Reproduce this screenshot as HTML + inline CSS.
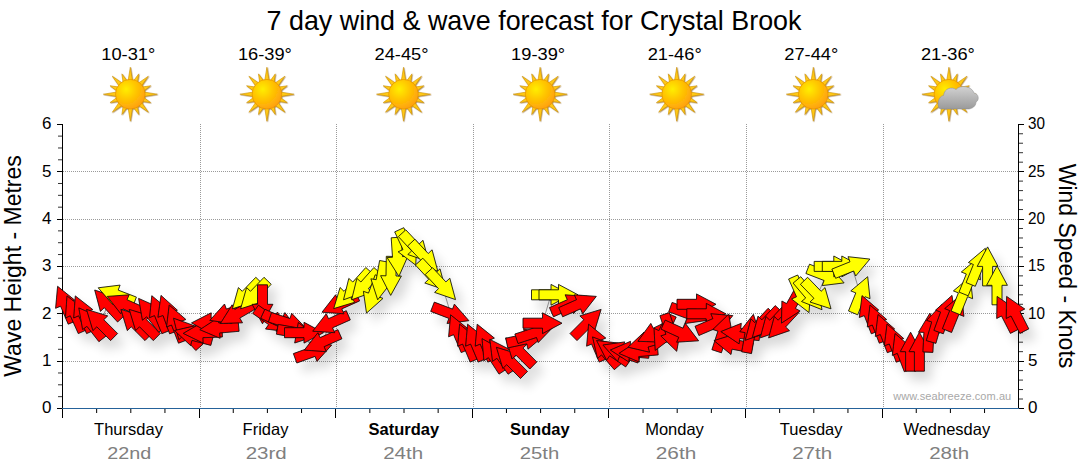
<!DOCTYPE html>
<html><head><meta charset="utf-8"><title>7 day wind &amp; wave forecast</title>
<style>
html,body{margin:0;padding:0;background:#fff;}
body{width:1080px;height:475px;overflow:hidden;position:relative;font-family:"Liberation Sans",sans-serif;}
svg{position:absolute;left:0;top:0;}
text{font-family:"Liberation Sans",sans-serif;}
</style></head><body>
<svg width="1080" height="475" viewBox="0 0 1080 475">
<defs>
<radialGradient id="sg" cx="0.36" cy="0.33" r="0.75">
<stop offset="0" stop-color="#ffee00"/><stop offset="0.45" stop-color="#ffc600"/><stop offset="1" stop-color="#ff9c10"/>
</radialGradient>
<linearGradient id="rg" x1="0" y1="0" x2="1" y2="1">
<stop offset="0" stop-color="#ffd800"/><stop offset="1" stop-color="#f7a000"/>
</linearGradient>
<linearGradient id="cg" x1="0" y1="0" x2="0" y2="1">
<stop offset="0" stop-color="#d2d2d2"/><stop offset="1" stop-color="#9a9a9a"/>
</linearGradient>
<filter id="sh" x="-5%" y="-20%" width="110%" height="150%">
<feGaussianBlur in="SourceAlpha" stdDeviation="5.5"/>
<feOffset dx="7" dy="9" result="b"/>
<feComponentTransfer><feFuncA type="linear" slope="0.15"/></feComponentTransfer>
<feMerge><feMergeNode/><feMergeNode in="SourceGraphic"/></feMerge>
</filter>
<filter id="ss" x="-20%" y="-20%" width="150%" height="150%">
<feDropShadow dx="0.6" dy="0.6" stdDeviation="0.5" flood-color="#7a4a00" flood-opacity="0.7"/>
</filter>
<g id="sun">

<g filter="url(#ss)"><path d="M-2.23 -13.31L0.00 -27.00L2.23 -13.31Z" fill="#ffc814" stroke="#c98a00" stroke-width="0.5"/>
<path d="M3.04 -13.15L8.42 -20.33L7.15 -11.45Z" fill="#ffc814" stroke="#c98a00" stroke-width="0.5"/>
<path d="M7.84 -10.99L18.03 -18.03L10.99 -7.84Z" fill="#ffc814" stroke="#c98a00" stroke-width="0.5"/>
<path d="M11.45 -7.15L20.33 -8.42L13.15 -3.04Z" fill="#ffc814" stroke="#c98a00" stroke-width="0.5"/>
<path d="M13.31 -2.23L27.00 0.00L13.31 2.23Z" fill="#ffc814" stroke="#c98a00" stroke-width="0.5"/>
<path d="M13.15 3.04L20.33 8.42L11.45 7.15Z" fill="#ffc814" stroke="#c98a00" stroke-width="0.5"/>
<path d="M10.99 7.84L18.03 18.03L7.84 10.99Z" fill="#ffc814" stroke="#c98a00" stroke-width="0.5"/>
<path d="M7.15 11.45L8.42 20.33L3.04 13.15Z" fill="#ffc814" stroke="#c98a00" stroke-width="0.5"/>
<path d="M2.23 13.31L0.00 27.00L-2.23 13.31Z" fill="#ffc814" stroke="#c98a00" stroke-width="0.5"/>
<path d="M-3.04 13.15L-8.42 20.33L-7.15 11.45Z" fill="#ffc814" stroke="#c98a00" stroke-width="0.5"/>
<path d="M-7.84 10.99L-18.03 18.03L-10.99 7.84Z" fill="#ffc814" stroke="#c98a00" stroke-width="0.5"/>
<path d="M-11.45 7.15L-20.33 8.42L-13.15 3.04Z" fill="#ffc814" stroke="#c98a00" stroke-width="0.5"/>
<path d="M-13.31 2.23L-27.00 0.00L-13.31 -2.23Z" fill="#ffc814" stroke="#c98a00" stroke-width="0.5"/>
<path d="M-13.15 -3.04L-20.33 -8.42L-11.45 -7.15Z" fill="#ffc814" stroke="#c98a00" stroke-width="0.5"/>
<path d="M-10.99 -7.84L-18.03 -18.03L-7.84 -10.99Z" fill="#ffc814" stroke="#c98a00" stroke-width="0.5"/>
<path d="M-7.15 -11.45L-8.42 -20.33L-3.04 -13.15Z" fill="#ffc814" stroke="#c98a00" stroke-width="0.5"/>
<circle r="14.8" fill="url(#sg)" stroke="#e08c00" stroke-width="0.6"/></g>
</g></defs>
<text x="534" y="29.6" font-size="28" text-anchor="middle" textLength="535" lengthAdjust="spacingAndGlyphs" fill="#000">7 day wind &amp; wave forecast for Crystal Brook</text>
<text x="128.3" y="59.5" font-size="17" text-anchor="middle" textLength="54" lengthAdjust="spacingAndGlyphs" fill="#000">10-31°</text>
<use href="#sun" x="130.3" y="94.2"/>
<text x="264.9" y="59.5" font-size="17" text-anchor="middle" textLength="54" lengthAdjust="spacingAndGlyphs" fill="#000">16-39°</text>
<use href="#sun" x="266.9" y="94.2"/>
<text x="401.5" y="59.5" font-size="17" text-anchor="middle" textLength="54" lengthAdjust="spacingAndGlyphs" fill="#000">24-45°</text>
<use href="#sun" x="403.5" y="94.2"/>
<text x="538.1" y="59.5" font-size="17" text-anchor="middle" textLength="54" lengthAdjust="spacingAndGlyphs" fill="#000">19-39°</text>
<use href="#sun" x="540.1" y="94.2"/>
<text x="674.7" y="59.5" font-size="17" text-anchor="middle" textLength="54" lengthAdjust="spacingAndGlyphs" fill="#000">21-46°</text>
<use href="#sun" x="676.7" y="94.2"/>
<text x="811.3" y="59.5" font-size="17" text-anchor="middle" textLength="54" lengthAdjust="spacingAndGlyphs" fill="#000">27-44°</text>
<use href="#sun" x="813.3" y="94.2"/>
<text x="947.9" y="59.5" font-size="17" text-anchor="middle" textLength="54" lengthAdjust="spacingAndGlyphs" fill="#000">21-36°</text>
<use href="#sun" x="948.9" y="94.2"/>
<g transform="translate(910,60)">
<path d="M31 49 C26.5 49 27 36.5 33.5 35.5 C34.5 28 42 26.5 46 29.5 C50 24.5 62 26 64 33 C69 33.5 69.5 40.5 66 42 C66 46.5 62 48.5 59 49 Z" fill="url(#cg)" stroke="#8a8a8a" stroke-width="0.5"/>
</g>
<g stroke="#9a9a9a" stroke-width="1" stroke-dasharray="1 1" shape-rendering="crispEdges"><line x1="63" x2="1018" y1="361.5" y2="361.5"/><line x1="63" x2="1018" y1="313.5" y2="313.5"/><line x1="63" x2="1018" y1="266.5" y2="266.5"/><line x1="63" x2="1018" y1="219.5" y2="219.5"/><line x1="63" x2="1018" y1="171.5" y2="171.5"/><line x1="200.5" x2="200.5" y1="124" y2="408"/><line x1="336.5" x2="336.5" y1="124" y2="408"/><line x1="473.5" x2="473.5" y1="124" y2="408"/><line x1="609.5" x2="609.5" y1="124" y2="408"/><line x1="746.5" x2="746.5" y1="124" y2="408"/><line x1="883.5" x2="883.5" y1="124" y2="408"/></g>
<g stroke="#000" stroke-width="1" shape-rendering="crispEdges"><line x1="62.5" x2="62.5" y1="124" y2="409"/><line x1="1018.5" x2="1018.5" y1="124" y2="409"/><line x1="57" x2="62" y1="408.5" y2="408.5"/><line x1="1019" x2="1024" y1="408.5" y2="408.5"/><line x1="57" x2="62" y1="361.5" y2="361.5"/><line x1="1019" x2="1024" y1="361.5" y2="361.5"/><line x1="57" x2="62" y1="313.5" y2="313.5"/><line x1="1019" x2="1024" y1="313.5" y2="313.5"/><line x1="57" x2="62" y1="266.5" y2="266.5"/><line x1="1019" x2="1024" y1="266.5" y2="266.5"/><line x1="57" x2="62" y1="219.5" y2="219.5"/><line x1="1019" x2="1024" y1="219.5" y2="219.5"/><line x1="57" x2="62" y1="171.5" y2="171.5"/><line x1="1019" x2="1024" y1="171.5" y2="171.5"/><line x1="57" x2="62" y1="124.5" y2="124.5"/><line x1="1019" x2="1024" y1="124.5" y2="124.5"/></g>
<g stroke="#333" stroke-width="1"><line x1="58" x2="62" y1="396.66" y2="396.66"/><line x1="58" x2="62" y1="384.81" y2="384.81"/><line x1="58" x2="62" y1="372.97" y2="372.97"/><line x1="58" x2="62" y1="349.29" y2="349.29"/><line x1="58" x2="62" y1="337.44" y2="337.44"/><line x1="58" x2="62" y1="325.60" y2="325.60"/><line x1="58" x2="62" y1="301.92" y2="301.92"/><line x1="58" x2="62" y1="290.07" y2="290.07"/><line x1="58" x2="62" y1="278.23" y2="278.23"/><line x1="58" x2="62" y1="254.55" y2="254.55"/><line x1="58" x2="62" y1="242.71" y2="242.71"/><line x1="58" x2="62" y1="230.86" y2="230.86"/><line x1="58" x2="62" y1="207.18" y2="207.18"/><line x1="58" x2="62" y1="195.34" y2="195.34"/><line x1="58" x2="62" y1="183.49" y2="183.49"/><line x1="58" x2="62" y1="159.81" y2="159.81"/><line x1="58" x2="62" y1="147.97" y2="147.97"/><line x1="58" x2="62" y1="136.12" y2="136.12"/><line x1="1019" x2="1023" y1="399.03" y2="399.03"/><line x1="1019" x2="1023" y1="389.55" y2="389.55"/><line x1="1019" x2="1023" y1="380.08" y2="380.08"/><line x1="1019" x2="1023" y1="370.60" y2="370.60"/><line x1="1019" x2="1023" y1="351.66" y2="351.66"/><line x1="1019" x2="1023" y1="342.18" y2="342.18"/><line x1="1019" x2="1023" y1="332.71" y2="332.71"/><line x1="1019" x2="1023" y1="323.23" y2="323.23"/><line x1="1019" x2="1023" y1="304.29" y2="304.29"/><line x1="1019" x2="1023" y1="294.81" y2="294.81"/><line x1="1019" x2="1023" y1="285.34" y2="285.34"/><line x1="1019" x2="1023" y1="275.86" y2="275.86"/><line x1="1019" x2="1023" y1="256.92" y2="256.92"/><line x1="1019" x2="1023" y1="247.44" y2="247.44"/><line x1="1019" x2="1023" y1="237.97" y2="237.97"/><line x1="1019" x2="1023" y1="228.49" y2="228.49"/><line x1="1019" x2="1023" y1="209.55" y2="209.55"/><line x1="1019" x2="1023" y1="200.07" y2="200.07"/><line x1="1019" x2="1023" y1="190.60" y2="190.60"/><line x1="1019" x2="1023" y1="181.12" y2="181.12"/><line x1="1019" x2="1023" y1="162.18" y2="162.18"/><line x1="1019" x2="1023" y1="152.70" y2="152.70"/><line x1="1019" x2="1023" y1="143.23" y2="143.23"/><line x1="1019" x2="1023" y1="133.75" y2="133.75"/></g>
<line x1="62" x2="1019" y1="408.5" y2="408.5" stroke="#25629a" stroke-width="1.2"/>
<g stroke="#000" stroke-width="1"><line x1="62.5" x2="62.5" y1="409" y2="418"/><line x1="96.65" x2="96.65" y1="409" y2="413"/><line x1="130.80" x2="130.80" y1="409" y2="413"/><line x1="164.95" x2="164.95" y1="409" y2="413"/><line x1="199.5" x2="199.5" y1="409" y2="418"/><line x1="233.25" x2="233.25" y1="409" y2="413"/><line x1="267.40" x2="267.40" y1="409" y2="413"/><line x1="301.55" x2="301.55" y1="409" y2="413"/><line x1="335.5" x2="335.5" y1="409" y2="418"/><line x1="369.85" x2="369.85" y1="409" y2="413"/><line x1="404.00" x2="404.00" y1="409" y2="413"/><line x1="438.15" x2="438.15" y1="409" y2="413"/><line x1="472.5" x2="472.5" y1="409" y2="418"/><line x1="506.45" x2="506.45" y1="409" y2="413"/><line x1="540.60" x2="540.60" y1="409" y2="413"/><line x1="574.75" x2="574.75" y1="409" y2="413"/><line x1="608.5" x2="608.5" y1="409" y2="418"/><line x1="643.05" x2="643.05" y1="409" y2="413"/><line x1="677.20" x2="677.20" y1="409" y2="413"/><line x1="711.35" x2="711.35" y1="409" y2="413"/><line x1="745.5" x2="745.5" y1="409" y2="418"/><line x1="779.65" x2="779.65" y1="409" y2="413"/><line x1="813.80" x2="813.80" y1="409" y2="413"/><line x1="847.95" x2="847.95" y1="409" y2="413"/><line x1="882.5" x2="882.5" y1="409" y2="418"/><line x1="916.25" x2="916.25" y1="409" y2="413"/><line x1="950.40" x2="950.40" y1="409" y2="413"/><line x1="984.55" x2="984.55" y1="409" y2="413"/></g>
<polyline points="65.2,304.3 74.9,313.8 83.2,313.8 90.8,323.2 100.3,323.2 108.0,304.3 116.4,294.8 125.0,304.3 134.7,323.2 143.0,323.2 150.6,313.8 159.1,313.8 167.7,313.8 176.2,323.2 186.5,332.7 193.3,335.6 202.7,332.7 211.0,323.2 219.2,328.0 228.1,313.8 237.3,313.8 245.9,294.8 254.1,294.8 262.5,304.3 271.5,320.5 280.5,322.0 288.5,323.2 296.5,332.7 304.0,332.7 313.4,351.7 322.1,342.2 330.5,323.2 339.8,304.3 347.5,294.8 356.5,285.3 364.6,285.3 373.2,294.8 381.1,280.6 391.0,275.9 397.5,256.9 407.5,247.4 415.4,247.4 424.5,256.9 432.4,275.9 442.2,285.3 450.7,313.8 458.2,332.7 467.2,342.2 475.2,342.2 484.8,342.2 492.6,355.0 501.0,355.4 510.2,361.1 519.5,351.7 525.8,339.0 535.0,332.7 542.5,323.2 551.0,294.8 558.5,294.8 569.3,304.3 578.5,304.3 587.3,323.2 596.2,342.2 605.3,351.7 612.6,351.7 621.2,351.7 629.7,351.7 638.3,351.7 646.8,342.2 655.4,332.7 663.4,332.7 670.7,332.7 680.9,332.7 688.7,313.8 696.5,304.3 706.3,313.8 714.9,323.2 722.7,332.7 733.0,344.3 740.2,333.6 750.0,333.5 758.5,326.0 765.6,323.2 773.5,323.6 781.9,323.6 791.0,306.0 801.1,294.8 809.5,294.8 817.5,294.8 825.9,275.9 833.8,266.4 841.8,266.4 851.9,266.4 860.4,294.8 869.0,313.8 877.0,323.2 885.0,332.7 894.0,342.2 902.0,351.7 910.6,351.7 919.4,351.7 928.9,332.7 936.5,323.2 945.3,313.8 954.3,312.5 963.0,294.8 970.9,275.9 978.0,266.4 987.6,266.4 997.0,285.3 1006.0,313.8 1015.5,313.8" fill="none" stroke="#9a9a9a" stroke-width="1"/>
<g filter="url(#sh)" stroke="#0a0a0a" stroke-width="0.85" stroke-linejoin="miter">
<polygon points="68.2,324.2 60.6,306.2 55.6,308.3 57.6,286.3 74.8,300.2 69.8,302.3 77.4,320.3" fill="#ff0000"/>
<polygon points="78.3,333.6 70.3,315.8 65.4,318.0 67.0,295.9 84.4,309.5 79.5,311.7 87.4,329.5" fill="#ff0000"/>
<polygon points="86.6,333.6 78.6,315.8 73.7,318.0 75.3,295.9 92.7,309.5 87.8,311.7 95.7,329.5" fill="#ff0000"/>
<polygon points="98.9,341.7 86.9,326.3 82.6,329.6 78.8,307.9 99.0,316.8 94.7,320.2 106.7,335.5" fill="#ff0000"/>
<polygon points="110.6,340.6 96.8,326.8 92.9,330.6 86.5,309.4 107.7,315.9 103.8,319.7 117.6,333.5" fill="#ff0000"/>
<polygon points="117.6,322.0 104.3,307.7 100.4,311.4 94.7,290.0 115.6,297.2 111.7,300.9 125.0,315.1" fill="#ff0000"/>
<polygon points="132.8,306.5 114.6,299.5 112.7,304.5 98.2,287.8 120.1,285.1 118.2,290.1 136.4,297.1" fill="#ffff00"/>
<polygon points="140.8,316.8 123.0,308.9 120.8,313.8 107.2,296.4 129.2,294.8 127.0,299.7 144.8,307.6" fill="#ff0000"/>
<polygon points="145.0,340.6 131.2,326.8 127.3,330.6 120.9,309.4 142.1,315.9 138.2,319.7 152.0,333.5" fill="#ff0000"/>
<polygon points="153.3,340.6 139.5,326.8 135.6,330.6 129.2,309.4 150.4,315.9 146.5,319.7 160.3,333.5" fill="#ff0000"/>
<polygon points="158.7,332.2 146.7,316.8 142.4,320.2 138.6,298.4 158.8,307.4 154.5,310.7 166.5,326.0" fill="#ff0000"/>
<polygon points="161.8,333.7 154.5,315.6 149.5,317.7 151.8,295.7 168.7,309.9 163.7,311.9 171.0,330.0" fill="#ff0000"/>
<polygon points="169.6,333.8 163.0,315.5 157.9,317.3 161.0,295.4 177.4,310.2 172.3,312.0 179.0,330.4" fill="#ff0000"/>
<polygon points="178.5,343.2 171.5,325.0 166.5,327.0 169.2,305.0 185.9,319.5 180.9,321.4 187.9,339.6" fill="#ff0000"/>
<polygon points="195.8,350.5 182.8,336.1 178.8,339.7 173.5,318.2 194.2,325.7 190.2,329.4 203.3,343.9" fill="#ff0000"/>
<polygon points="210.8,345.4 192.0,340.4 190.6,345.6 174.5,330.5 196.0,325.5 194.6,330.7 213.4,335.8" fill="#ff0000"/>
<polygon points="222.4,337.0 202.9,337.7 203.1,343.1 183.2,333.4 202.3,322.3 202.5,327.7 222.0,327.0" fill="#ff0000"/>
<polygon points="230.4,328.6 210.9,328.2 210.8,333.6 191.5,322.9 211.2,312.8 211.1,318.2 230.6,318.6" fill="#ff0000"/>
<polygon points="239.1,331.3 219.6,333.0 220.1,338.3 199.8,329.7 218.3,317.6 218.8,323.0 238.2,321.3" fill="#ff0000"/>
<polygon points="248.1,311.8 229.8,318.5 231.7,323.5 209.8,320.4 224.5,304.0 226.4,309.1 244.7,302.4" fill="#ff0000"/>
<polygon points="256.7,308.3 239.8,318.1 242.5,322.8 220.4,323.5 232.1,304.8 234.8,309.4 251.7,299.7" fill="#ff0000"/>
<polygon points="263.0,284.3 249.5,298.3 253.4,302.0 232.4,308.8 238.4,287.6 242.3,291.3 255.8,277.3" fill="#ffff00"/>
<polygon points="271.2,284.3 257.7,298.3 261.6,302.0 240.6,308.8 246.6,287.6 250.5,291.3 264.0,277.3" fill="#ffff00"/>
<polygon points="267.5,284.8 267.5,304.3 272.9,304.3 262.5,323.8 252.1,304.3 257.5,304.3 257.5,284.8" fill="#ff0000"/>
<polygon points="258.4,305.2 274.4,316.4 277.5,312.0 287.5,331.7 265.5,329.0 268.6,324.6 252.7,313.4" fill="#ff0000"/>
<polygon points="264.9,309.2 282.6,317.5 284.9,312.6 298.2,330.2 276.1,331.4 278.4,326.5 260.7,318.3" fill="#ff0000"/>
<polygon points="271.5,312.5 290.0,318.5 291.7,313.3 307.0,329.3 285.3,333.1 287.0,328.0 268.4,322.0" fill="#ff0000"/>
<polygon points="278.2,324.4 297.4,327.8 298.3,322.5 315.7,336.1 294.7,343.0 295.6,337.6 276.4,334.2" fill="#ff0000"/>
<polygon points="284.5,327.7 304.0,327.7 304.0,322.3 323.5,332.7 304.0,343.1 304.0,337.7 284.5,337.7" fill="#ff0000"/>
<polygon points="293.4,353.6 311.7,347.0 309.8,341.9 331.7,345.0 317.0,361.4 315.1,356.4 296.8,363.0" fill="#ff0000"/>
<polygon points="341.9,338.8 324.1,346.7 326.3,351.7 304.3,350.1 317.9,332.7 320.1,337.6 337.9,329.7" fill="#ff0000"/>
<polygon points="350.3,319.9 332.5,327.8 334.7,332.7 312.7,331.2 326.3,313.7 328.5,318.7 346.3,310.7" fill="#ff0000"/>
<polygon points="359.6,300.9 341.8,308.9 344.0,313.8 322.0,312.2 335.6,294.8 337.8,299.7 355.6,291.8" fill="#ff0000"/>
<polygon points="364.8,284.6 351.0,298.3 354.9,302.2 333.7,308.6 340.1,287.5 344.0,291.3 357.8,277.5" fill="#ffff00"/>
<polygon points="373.3,274.2 360.2,288.7 364.2,292.3 343.5,299.8 348.8,278.4 352.8,282.0 365.8,267.5" fill="#ffff00"/>
<polygon points="381.4,274.2 368.3,288.7 372.3,292.3 351.6,299.8 356.9,278.4 360.9,282.0 373.9,267.5" fill="#ffff00"/>
<polygon points="384.6,278.2 377.9,296.5 383.0,298.4 366.5,313.1 363.4,291.3 368.5,293.1 375.2,274.8" fill="#ffff00"/>
<polygon points="389.4,262.3 386.0,281.5 391.3,282.4 377.7,299.8 370.9,278.8 376.2,279.7 379.6,260.5" fill="#ffff00"/>
<polygon points="396.3,256.5 396.0,276.0 401.4,276.0 390.7,295.4 380.6,275.7 386.0,275.8 386.3,256.3" fill="#ffff00"/>
<polygon points="401.1,237.1 402.5,256.6 407.9,256.2 398.9,276.4 387.1,257.6 392.5,257.3 391.2,237.8" fill="#ffff00"/>
<polygon points="403.8,227.7 412.0,245.3 416.9,243.0 415.7,265.1 398.1,251.8 403.0,249.6 394.7,231.9" fill="#ffff00"/>
<polygon points="405.8,229.8 419.1,244.0 423.0,240.3 428.7,261.7 407.8,254.5 411.7,250.9 398.4,236.6" fill="#ffff00"/>
<polygon points="414.9,239.2 428.2,253.5 432.1,249.8 437.8,271.2 416.9,264.0 420.8,260.3 407.5,246.1" fill="#ffff00"/>
<polygon points="422.8,258.2 436.1,272.5 440.0,268.8 445.7,290.1 424.8,283.0 428.7,279.3 415.4,265.0" fill="#ffff00"/>
<polygon points="432.6,267.7 445.9,281.9 449.8,278.2 455.5,299.6 434.6,292.4 438.5,288.7 425.2,274.5" fill="#ffff00"/>
<polygon points="434.3,302.1 452.5,309.1 454.4,304.1 468.9,320.7 447.0,323.5 448.9,318.4 430.7,311.4" fill="#ff0000"/>
<polygon points="461.2,352.6 453.6,334.7 448.6,336.8 450.6,314.8 467.8,328.6 462.8,330.8 470.4,348.7" fill="#ff0000"/>
<polygon points="470.2,362.1 462.6,344.1 457.6,346.2 459.6,324.2 476.8,338.1 471.8,340.2 479.4,358.2" fill="#ff0000"/>
<polygon points="478.2,362.1 470.6,344.1 465.6,346.2 467.6,324.2 484.8,338.1 479.8,340.2 487.4,358.2" fill="#ff0000"/>
<polygon points="487.8,362.1 480.2,344.1 475.2,346.2 477.2,324.2 494.4,338.1 489.4,340.2 497.0,358.2" fill="#ff0000"/>
<polygon points="499.0,374.1 488.4,357.7 483.9,360.7 482.0,338.6 501.3,349.3 496.8,352.3 507.4,368.6" fill="#ff0000"/>
<polygon points="508.1,374.2 496.9,358.3 492.5,361.4 489.8,339.4 509.5,349.4 505.1,352.5 516.3,368.5" fill="#ff0000"/>
<polygon points="520.5,378.5 506.7,364.7 502.8,368.5 496.4,347.3 517.6,353.8 513.7,357.6 527.5,371.4" fill="#ff0000"/>
<polygon points="529.8,369.0 516.0,355.2 512.1,359.0 505.7,337.9 526.9,344.3 523.0,348.1 536.8,361.9" fill="#ff0000"/>
<polygon points="505.7,338.2 524.8,334.1 523.6,328.8 544.9,334.9 528.0,349.2 526.8,343.9 507.8,347.9" fill="#ff0000"/>
<polygon points="514.9,334.0 533.5,328.0 531.8,322.8 553.5,326.7 538.2,342.6 536.5,337.5 518.0,343.5" fill="#ff0000"/>
<polygon points="523.0,318.2 542.5,318.2 542.5,312.8 562.0,323.2 542.5,333.6 542.5,328.2 523.0,328.2" fill="#ff0000"/>
<polygon points="531.5,289.8 551.0,289.8 551.0,284.4 570.5,294.8 551.0,305.2 551.0,299.8 531.5,299.8" fill="#ffff00"/>
<polygon points="539.0,289.8 558.5,289.8 558.5,284.4 578.0,294.8 558.5,305.2 558.5,299.8 539.0,299.8" fill="#ffff00"/>
<polygon points="549.5,307.6 567.3,299.7 565.1,294.8 587.1,296.4 573.5,313.8 571.3,308.9 553.5,316.8" fill="#ff0000"/>
<polygon points="558.7,307.6 576.5,299.7 574.3,294.8 596.3,296.4 582.7,313.8 580.5,308.9 562.7,316.8" fill="#ff0000"/>
<polygon points="570.0,333.5 583.8,319.7 579.9,315.9 601.1,309.4 594.7,330.6 590.8,326.8 577.0,340.6" fill="#ff0000"/>
<polygon points="599.2,362.1 591.6,344.1 586.6,346.2 588.6,324.2 605.8,338.1 600.8,340.2 608.4,358.2" fill="#ff0000"/>
<polygon points="614.3,369.7 601.5,354.9 597.5,358.5 592.5,336.9 613.1,344.8 609.1,348.4 621.9,363.1" fill="#ff0000"/>
<polygon points="625.7,366.9 609.7,355.8 606.6,360.2 596.6,340.5 618.6,343.1 615.5,347.6 631.4,358.7" fill="#ff0000"/>
<polygon points="637.8,363.0 619.5,356.4 617.6,361.4 602.9,345.0 624.8,341.9 622.9,347.0 641.2,353.6" fill="#ff0000"/>
<polygon points="648.7,358.3 629.3,356.6 628.8,362.0 610.3,350.0 630.6,341.3 630.1,346.7 649.6,348.4" fill="#ff0000"/>
<polygon points="658.2,354.9 638.7,356.6 639.2,362.0 618.9,353.4 637.4,341.3 637.9,346.7 657.3,345.0" fill="#ff0000"/>
<polygon points="666.9,342.0 648.1,347.0 649.5,352.2 628.0,347.2 644.1,332.1 645.5,337.4 664.3,332.3" fill="#ff0000"/>
<polygon points="675.1,328.7 657.6,337.2 660.0,342.1 637.9,341.3 650.8,323.4 653.2,328.2 670.7,319.7" fill="#ff0000"/>
<polygon points="676.2,317.1 667.9,334.8 672.8,337.1 655.2,350.4 654.0,328.3 658.9,330.6 667.1,312.9" fill="#ff0000"/>
<polygon points="669.4,312.6 675.5,331.2 680.6,329.5 676.7,351.3 660.8,335.9 665.9,334.3 659.9,315.7" fill="#ff0000"/>
<polygon points="665.2,320.1 683.0,328.2 685.2,323.2 698.6,340.8 676.6,342.2 678.8,337.3 661.1,329.2" fill="#ff0000"/>
<polygon points="672.1,302.4 690.4,309.1 692.3,304.0 707.0,320.4 685.1,323.5 687.0,318.5 668.7,311.8" fill="#ff0000"/>
<polygon points="677.0,299.3 696.5,299.3 696.5,293.9 716.0,304.3 696.5,314.7 696.5,309.3 677.0,309.3" fill="#ff0000"/>
<polygon points="686.8,308.8 706.3,308.8 706.3,303.4 725.8,313.8 706.3,324.2 706.3,318.8 686.8,318.8" fill="#ff0000"/>
<polygon points="695.0,326.3 712.9,318.6 710.8,313.7 732.8,315.6 719.0,332.8 716.9,327.8 698.9,335.5" fill="#ff0000"/>
<polygon points="711.9,349.7 717.9,331.2 712.8,329.5 728.7,314.2 732.6,335.9 727.5,334.3 721.4,352.8" fill="#ff0000"/>
<polygon points="751.2,352.9 732.0,349.2 731.0,354.5 713.9,340.6 735.0,334.1 734.0,339.4 753.1,343.1" fill="#ff0000"/>
<polygon points="759.1,340.6 739.7,338.6 739.1,343.9 720.8,331.6 741.3,323.3 740.7,328.6 760.1,330.7" fill="#ff0000"/>
<polygon points="741.7,351.8 745.1,332.6 739.8,331.7 753.4,314.3 760.2,335.3 754.9,334.4 751.5,353.6" fill="#ff0000"/>
<polygon points="775.5,315.1 762.2,329.4 766.1,333.1 745.2,340.3 750.9,318.9 754.8,322.6 768.1,308.3" fill="#ff0000"/>
<polygon points="782.6,312.4 769.3,326.6 773.2,330.3 752.3,337.5 758.0,316.1 761.9,319.8 775.2,305.6" fill="#ff0000"/>
<polygon points="790.5,312.7 777.2,327.0 781.1,330.7 760.2,337.9 765.9,316.5 769.8,320.2 783.1,305.9" fill="#ff0000"/>
<polygon points="798.9,312.7 785.6,327.0 789.5,330.7 768.6,337.9 774.3,316.5 778.2,320.2 791.5,305.9" fill="#ff0000"/>
<polygon points="804.8,291.4 795.4,308.4 800.1,311.0 781.5,323.1 781.9,301.0 786.6,303.6 796.1,286.5" fill="#ff0000"/>
<polygon points="797.7,275.0 805.7,292.8 810.6,290.6 809.0,312.6 791.6,299.0 796.5,296.8 788.6,279.0" fill="#ffff00"/>
<polygon points="800.8,276.7 813.3,291.6 817.5,288.1 822.0,309.7 801.5,301.5 805.7,298.0 793.1,283.1" fill="#ffff00"/>
<polygon points="807.6,277.3 821.1,291.3 825.0,287.6 831.0,308.8 810.0,302.0 813.9,298.3 800.4,284.3" fill="#ffff00"/>
<polygon points="809.5,264.2 827.7,271.2 829.6,266.2 844.1,282.9 822.2,285.6 824.1,280.5 805.9,273.5" fill="#ffff00"/>
<polygon points="814.2,261.4 833.8,261.4 833.8,256.0 853.2,266.4 833.8,276.8 833.8,271.4 814.2,271.4" fill="#ffff00"/>
<polygon points="822.3,261.4 841.8,261.4 841.8,256.0 861.3,266.4 841.8,276.8 841.8,271.4 822.3,271.4" fill="#ffff00"/>
<polygon points="831.9,269.1 850.0,261.8 848.0,256.7 869.9,259.1 855.7,276.0 853.7,271.0 835.6,278.3" fill="#ffff00"/>
<polygon points="848.5,311.0 855.8,292.9 850.8,290.9 867.7,276.7 870.0,298.7 865.0,296.7 857.7,314.8" fill="#ffff00"/>
<polygon points="871.3,333.8 864.3,315.6 859.3,317.5 862.0,295.6 878.7,310.0 873.7,312.0 880.7,330.2" fill="#ff0000"/>
<polygon points="879.3,343.2 872.3,325.0 867.3,327.0 870.0,305.0 886.7,319.5 881.7,321.4 888.7,339.6" fill="#ff0000"/>
<polygon points="887.3,352.7 880.3,334.5 875.3,336.4 878.0,314.5 894.7,329.0 889.7,330.9 896.7,349.1" fill="#ff0000"/>
<polygon points="896.3,362.2 889.3,344.0 884.3,345.9 887.0,324.0 903.7,338.5 898.7,340.4 905.7,358.6" fill="#ff0000"/>
<polygon points="904.3,371.7 897.3,353.4 892.3,355.4 895.0,333.5 911.7,347.9 906.7,349.9 913.7,368.1" fill="#ff0000"/>
<polygon points="905.6,371.2 905.6,351.7 900.2,351.7 910.6,332.2 921.0,351.7 915.6,351.7 915.6,371.2" fill="#ff0000"/>
<polygon points="914.4,371.2 914.4,351.7 909.0,351.7 919.4,332.2 929.8,351.7 924.4,351.7 924.4,371.2" fill="#ff0000"/>
<polygon points="922.9,351.9 923.9,332.4 918.5,332.2 929.9,313.2 939.3,333.3 933.9,333.0 932.9,352.4" fill="#ff0000"/>
<polygon points="926.3,340.6 931.7,321.9 926.5,320.4 941.9,304.5 946.5,326.1 941.3,324.6 935.9,343.4" fill="#ff0000"/>
<polygon points="933.9,330.4 940.6,312.0 935.5,310.2 952.0,295.4 955.1,317.3 950.0,315.5 943.3,333.8" fill="#ff0000"/>
<polygon points="942.4,328.7 949.7,310.6 944.7,308.6 961.6,294.4 963.9,316.4 958.9,314.4 951.6,332.5" fill="#ff0000"/>
<polygon points="951.1,311.0 958.4,292.9 953.4,290.9 970.3,276.7 972.6,298.7 967.6,296.7 960.3,314.8" fill="#ffff00"/>
<polygon points="959.0,292.1 966.3,274.0 961.3,272.0 978.2,257.8 980.5,279.8 975.5,277.7 968.2,295.8" fill="#ffff00"/>
<polygon points="966.1,282.6 973.4,264.5 968.4,262.5 985.3,248.3 987.6,270.3 982.6,268.3 975.3,286.3" fill="#ffff00"/>
<polygon points="982.6,285.9 982.6,266.4 977.2,266.4 987.6,246.9 998.0,266.4 992.6,266.4 992.6,285.9" fill="#ffff00"/>
<polygon points="992.0,304.8 992.0,285.3 986.6,285.3 997.0,265.8 1007.4,285.3 1002.0,285.3 1002.0,304.8" fill="#ffff00"/>
<polygon points="1010.4,333.4 1001.5,316.0 996.7,318.5 997.1,296.4 1015.3,309.0 1010.5,311.5 1019.3,328.9" fill="#ff0000"/>
<polygon points="1019.9,333.4 1011.0,316.0 1006.2,318.5 1006.6,296.4 1024.8,309.0 1020.0,311.5 1028.8,328.9" fill="#ff0000"/>
</g>
<text x="51.5" y="413.3" font-size="17" text-anchor="end">0</text>
<text x="1028" y="413.3" font-size="17">0</text>
<text x="51.5" y="365.9" font-size="17" text-anchor="end">1</text>
<text x="1028" y="365.9" font-size="17">5</text>
<text x="51.5" y="318.6" font-size="17" text-anchor="end">2</text>
<text x="1028" y="318.6" font-size="17" textLength="17" lengthAdjust="spacingAndGlyphs">10</text>
<text x="51.5" y="271.2" font-size="17" text-anchor="end">3</text>
<text x="1028" y="271.2" font-size="17" textLength="17" lengthAdjust="spacingAndGlyphs">15</text>
<text x="51.5" y="223.8" font-size="17" text-anchor="end">4</text>
<text x="1028" y="223.8" font-size="17" textLength="17" lengthAdjust="spacingAndGlyphs">20</text>
<text x="51.5" y="176.5" font-size="17" text-anchor="end">5</text>
<text x="1028" y="176.5" font-size="17" textLength="17" lengthAdjust="spacingAndGlyphs">25</text>
<text x="51.5" y="129.1" font-size="17" text-anchor="end">6</text>
<text x="1028" y="129.1" font-size="17" textLength="17" lengthAdjust="spacingAndGlyphs">30</text>
<text transform="translate(20.7,266) rotate(-90)" font-size="23" text-anchor="middle">Wave Height - Metres</text>
<text transform="translate(1059.3,266) rotate(90)" font-size="23" text-anchor="middle">Wind Speed - Knots</text>
<text x="128.5" y="435" font-size="16.5" text-anchor="middle">Thursday</text>
<text x="129.2" y="458.6" font-size="17" text-anchor="middle" textLength="44.0" lengthAdjust="spacingAndGlyphs" fill="#808080">22nd</text>
<text x="265.5" y="435" font-size="16.5" text-anchor="middle">Friday</text>
<text x="266.2" y="458.6" font-size="17" text-anchor="middle" textLength="41.0" lengthAdjust="spacingAndGlyphs" fill="#808080">23rd</text>
<text x="403.8" y="435" font-size="16.5" text-anchor="middle" font-weight="bold">Saturday</text>
<text x="403.2" y="458.6" font-size="17" text-anchor="middle" textLength="40.0" lengthAdjust="spacingAndGlyphs" fill="#808080">24th</text>
<text x="539.8" y="435" font-size="16.5" text-anchor="middle" font-weight="bold">Sunday</text>
<text x="539.5" y="458.6" font-size="17" text-anchor="middle" textLength="39.5" lengthAdjust="spacingAndGlyphs" fill="#808080">25th</text>
<text x="674.5" y="435" font-size="16.5" text-anchor="middle">Monday</text>
<text x="676.0" y="458.6" font-size="17" text-anchor="middle" textLength="40.5" lengthAdjust="spacingAndGlyphs" fill="#808080">26th</text>
<text x="811.2" y="435" font-size="16.5" text-anchor="middle">Tuesday</text>
<text x="812.2" y="458.6" font-size="17" text-anchor="middle" textLength="40.0" lengthAdjust="spacingAndGlyphs" fill="#808080">27th</text>
<text x="946.8" y="435" font-size="16.5" text-anchor="middle">Wednesday</text>
<text x="949.2" y="458.6" font-size="17" text-anchor="middle" textLength="40.0" lengthAdjust="spacingAndGlyphs" fill="#808080">28th</text>
<text x="1011.2" y="400.4" font-size="11" text-anchor="end" textLength="118" lengthAdjust="spacing" fill="#a8a8a8">www.seabreeze.com.au</text>
</svg></body></html>
